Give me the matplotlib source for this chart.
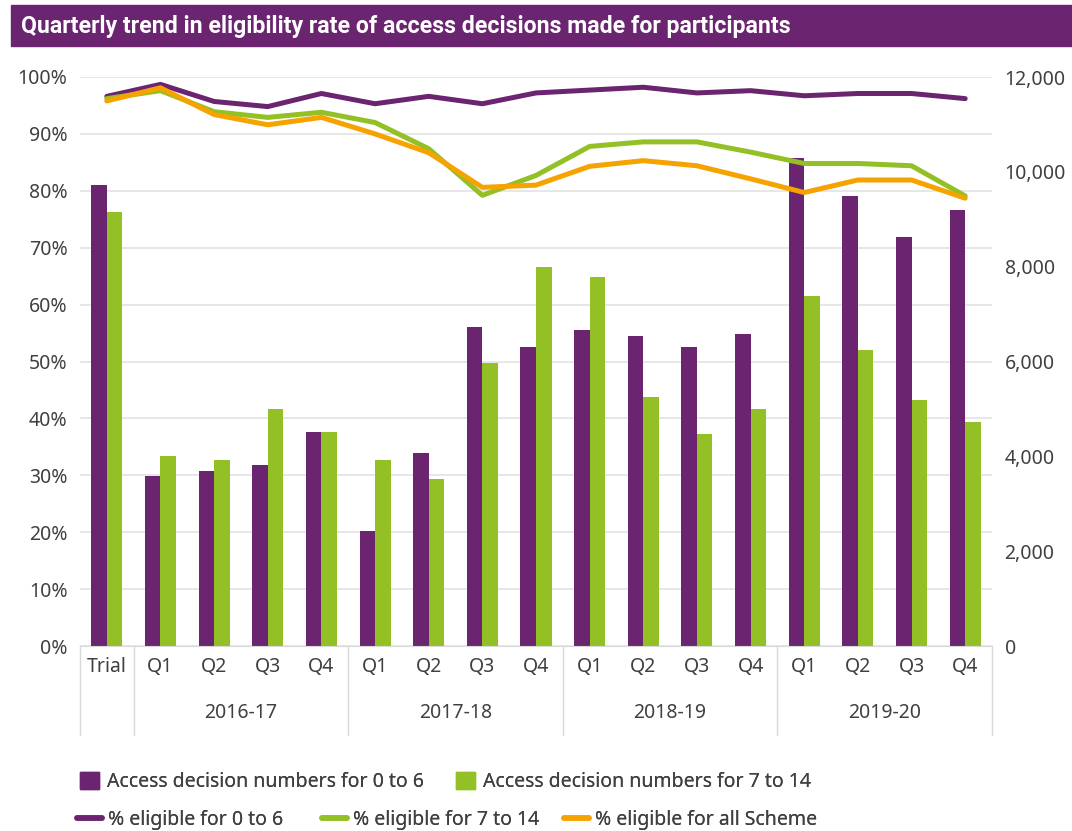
import matplotlib.pyplot as plt
import matplotlib.transforms as mtransforms
from matplotlib.ticker import FuncFormatter, MultipleLocator
from matplotlib.patches import Rectangle, Patch
from matplotlib.lines import Line2D

# Data
categories = ['Trial', 'Q1', 'Q2', 'Q3', 'Q4', 'Q1', 'Q2', 'Q3', 'Q4',
              'Q1', 'Q2', 'Q3', 'Q4', 'Q1', 'Q2', 'Q3', 'Q4']
years = ['2016-17', '2017-18', '2018-19', '2019-20']

decisions_0_6 = [9720, 3590, 3700, 3820, 4520, 2430, 4080, 6720, 6300,
                 6660, 6530, 6300, 6590, 10290, 9490, 8620, 9190]
decisions_7_14 = [9150, 4000, 3930, 4990, 4520, 3930, 3530, 5960, 7990,
                  7780, 5260, 4480, 4990, 7390, 6250, 5180, 4730]

pct_0_6 = [96.6, 98.7, 95.7, 94.8, 97.1, 95.3, 96.6, 95.3, 97.2,
           97.7, 98.2, 97.2, 97.6, 96.7, 97.1, 97.1, 96.2]
pct_7_14 = [96.2, 97.6, 93.9, 92.9, 93.8, 92.0, 87.4, 79.2, 82.7,
            87.8, 88.6, 88.6, 86.8, 84.8, 84.8, 84.4, 79.1]
pct_all = [95.8, 98.1, 93.4, 91.6, 92.9, 90.0, 86.7, 80.6, 81.0,
           84.3, 85.3, 84.4, 82.1, 79.7, 81.9, 81.9, 78.7]

bar_labels = ['Access decision numbers for 0 to 6', 'Access decision numbers for 7 to 14']
line_labels = ['% eligible for 0 to 6', '% eligible for 7 to 14', '% eligible for all Scheme']

PURPLE = '#6A2470'
GREEN = '#93C024'
ORANGE = '#F6A300'
TEXT = '#404040'
GRID = '#E3E3E3'

plt.rcParams['font.family'] = ['Noto Sans', 'DejaVu Sans']

fig = plt.figure(figsize=(10.72, 8.31), dpi=100)

# title bar
fig.patches.append(Rectangle((11 / 1072, 1 - 46 / 831), 1 - 11 / 1072, 41 / 831,
                             transform=fig.transFigure, color=PURPLE, zorder=0))
fig.text(21 / 1072, 1 - 27 / 831,
         'Quarterly trend in eligibility rate of access decisions made for participants',
         color='white', fontsize=16.7, fontweight='bold', va='center', ha='left',
         family=['Roboto', 'DejaVu Sans'])

ax = fig.add_axes([80 / 1072, 1 - 646 / 831, 912 / 1072, 569 / 831])
ax2 = ax.twinx()

x = list(range(len(categories)))
w = 0.29
ax.bar([i - w / 2 for i in x], decisions_0_6, width=w, color=PURPLE, zorder=2)
ax.bar([i + w / 2 for i in x], decisions_7_14, width=w, color=GREEN, zorder=2)

ax.set_xlim(-0.5, len(categories) - 0.5)
ax.set_ylim(0, 12000)
ax.yaxis.tick_right()
ax.yaxis.set_major_locator(MultipleLocator(2000))
ax.yaxis.set_major_formatter(FuncFormatter(lambda v, p: f'{v:,.0f}'))
# gridlines follow the 10% steps of the left axis
ax.yaxis.set_minor_locator(MultipleLocator(1200))
ax.yaxis.remove_overlapping_locs = False
ax.grid(which='minor', axis='y', color=GRID, lw=1.2, zorder=0)
ax.set_axisbelow(True)

ax2.plot(x, pct_0_6, color=PURPLE, lw=3.6, clip_on=False, solid_capstyle='round')
ax2.plot(x, pct_7_14, color=GREEN, lw=3.6, clip_on=False, solid_capstyle='round')
ax2.plot(x, pct_all, color=ORANGE, lw=3.6, clip_on=False, solid_capstyle='round')
ax2.set_ylim(0, 100)
ax2.yaxis.tick_left()
ax2.yaxis.set_major_locator(MultipleLocator(10))
ax2.yaxis.set_major_formatter(FuncFormatter(lambda v, p: f'{v:.0f}%'))

for a in (ax, ax2):
    for s in a.spines.values():
        s.set_visible(False)
    a.tick_params(which='both', length=0, labelsize=14, labelcolor=TEXT, pad=9)
ax.spines['bottom'].set_visible(True)
ax.spines['bottom'].set_color('#D9D9D9')

ax.set_xticks(x)
ax.set_xticklabels(categories)
ax.tick_params(axis='x', pad=8)

# two-level category axis
trans = mtransforms.blended_transform_factory(ax.transData, ax.transAxes)
for b in [-0.5, 0.5, 4.5, 8.5, 12.5, 16.5]:
    ax.plot([b, b], [0, -0.157], transform=trans, clip_on=False, color='#D9D9D9', lw=1)
for k, yr in enumerate(years):
    ax.text(2.5 + 4 * k, -0.118, yr, transform=trans, ha='center', va='center',
            fontsize=14, color=TEXT)


# legend: one small legend per entry so spacing matches the original
def legend_item(handle, label, xpx, ypx, **kw):
    fig.add_artist(fig.legend([handle], [label], loc='center left',
                              bbox_to_anchor=(xpx / 1072, 1 - ypx / 831),
                              frameon=False, fontsize=14, borderpad=0, borderaxespad=0,
                              labelcolor=TEXT, **kw))


for col, lab, xp in zip((PURPLE, GREEN), bar_labels, (80, 456)):
    legend_item(Patch(color=col), lab, xp, 782,
                handlelength=1.0, handleheight=1.0, handletextpad=0.4)
for col, lab, xp in zip((PURPLE, GREEN, ORANGE), line_labels, (77, 322, 564)):
    legend_item(Line2D([], [], color=col, lw=4, solid_capstyle='round'), lab, xp, 820,
                handlelength=1.3, handletextpad=0.3)

fig.savefig('out.png', dpi=100)
